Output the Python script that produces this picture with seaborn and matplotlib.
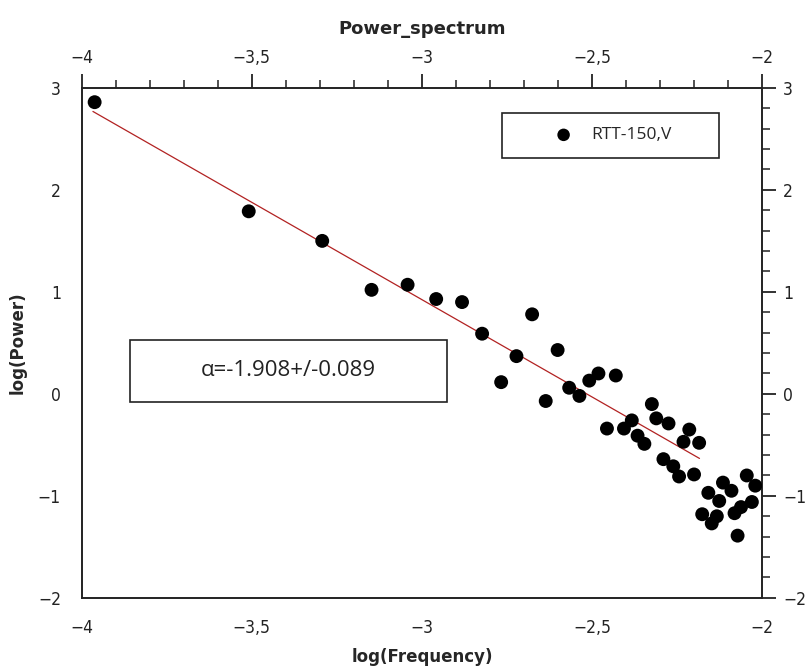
import matplotlib
matplotlib.use("Agg")
import matplotlib.pyplot as plt
from matplotlib.patches import Rectangle
from matplotlib.ticker import MultipleLocator, FuncFormatter
import seaborn as sns
import pandas as pd

# data
log_freq = [-3.962, -3.509, -3.293, -3.148, -3.042, -2.958, -2.882, -2.823,
            -2.767, -2.722, -2.676, -2.636, -2.601, -2.567, -2.537, -2.508,
            -2.481, -2.456, -2.430, -2.406, -2.383, -2.366, -2.346, -2.324,
            -2.311, -2.290, -2.275, -2.261, -2.244, -2.231, -2.214, -2.200,
            -2.185, -2.176, -2.158, -2.148, -2.133, -2.126, -2.115, -2.090,
            -2.081, -2.072, -2.062, -2.045, -2.030, -2.020]
log_power = [2.86, 1.79, 1.50, 1.02, 1.07, 0.93, 0.90, 0.59,
             0.115, 0.37, 0.78, -0.07, 0.43, 0.06, -0.02, 0.13,
             0.20, -0.34, 0.18, -0.34, -0.26, -0.41, -0.49, -0.10,
             -0.24, -0.64, -0.29, -0.71, -0.81, -0.47, -0.35, -0.79,
             -0.48, -1.18, -0.97, -1.27, -1.20, -1.05, -0.87, -0.95,
             -1.17, -1.39, -1.11, -0.80, -1.06, -0.90]
series_name = "RTT-150,V"

# linear fit shown on the chart
fit_slope = -1.908
fit_err = 0.089
fit_intercept = -4.80
fit_range = [-3.967, -2.184]

df = pd.DataFrame({"log(Frequency)": log_freq, "log(Power)": log_power})
fit = pd.DataFrame({"x": fit_range,
                    "y": [fit_intercept + fit_slope * v for v in fit_range]})

sns.set_style("white")
plt.rcParams["font.family"] = ["DejaVu Sans"]

fig = plt.figure(figsize=(8.09, 6.71), dpi=100)
ax = fig.add_axes([0.101, 0.109, 0.841, 0.760])

sns.lineplot(data=fit, x="x", y="y", color="#b22222", linewidth=0.9, ax=ax)
sns.scatterplot(data=df, x="log(Frequency)", y="log(Power)", color="black",
                s=100, edgecolor="none", label=series_name, ax=ax, zorder=3)

ax.set_xlim(-4, -2)
ax.set_ylim(-2, 3)
ax.xaxis.set_major_locator(MultipleLocator(0.5))
ax.xaxis.set_minor_locator(MultipleLocator(0.1))
ax.yaxis.set_major_locator(MultipleLocator(1))
ax.yaxis.set_minor_locator(MultipleLocator(0.2))
comma = FuncFormatter(lambda v, p: f"{v:g}".replace("-", "\u2212").replace(".", ","))
ax.xaxis.set_major_formatter(comma)
ax.yaxis.set_major_formatter(comma)

ax.tick_params(which="both", direction="out", top=True, right=True,
               labeltop=True, labelright=True, colors="#222222")
ax.tick_params(which="major", length=10, width=1.3, labelsize=12.5, pad=5)
ax.tick_params(which="minor", length=6, width=1.1)
for lab in ax.get_xticklabels() + ax.get_yticklabels():
    lab.set_fontstretch("condensed")
for sp in ax.spines.values():
    sp.set_color("#222222")
    sp.set_linewidth(1.4)

ax.set_xlabel("log(Frequency)", fontsize=12, fontweight="bold", labelpad=8)
ax.set_ylabel("log(Power)", fontsize=12, fontweight="bold", labelpad=8)
ax.set_title("Power_spectrum", fontsize=13, fontweight="bold", pad=11)

# legend box
ax.add_patch(Rectangle((0.618, 0.863), 0.319, 0.088, transform=ax.transAxes,
                       fill=False, edgecolor="#222222", linewidth=1.2, zorder=4))
ax.legend(loc="center", bbox_to_anchor=(0.775, 0.907), frameon=False,
          prop={"family": "Open Sans", "size": 12.5}, handletextpad=0.6,
          markerscale=0.9)

# fit result box
ax.add_patch(Rectangle((0.0706, 0.384), 0.467, 0.122, transform=ax.transAxes,
                       fill=False, edgecolor="#222222", linewidth=1.2, zorder=4))
ax.text(0.304, 0.445, f"\u03b1={fit_slope:.3f}+/-{fit_err:.3f}",
        transform=ax.transAxes, ha="center", va="center",
        fontsize=16, family="Open Sans", color="#222222")

fig.savefig("out.png", dpi=100)
